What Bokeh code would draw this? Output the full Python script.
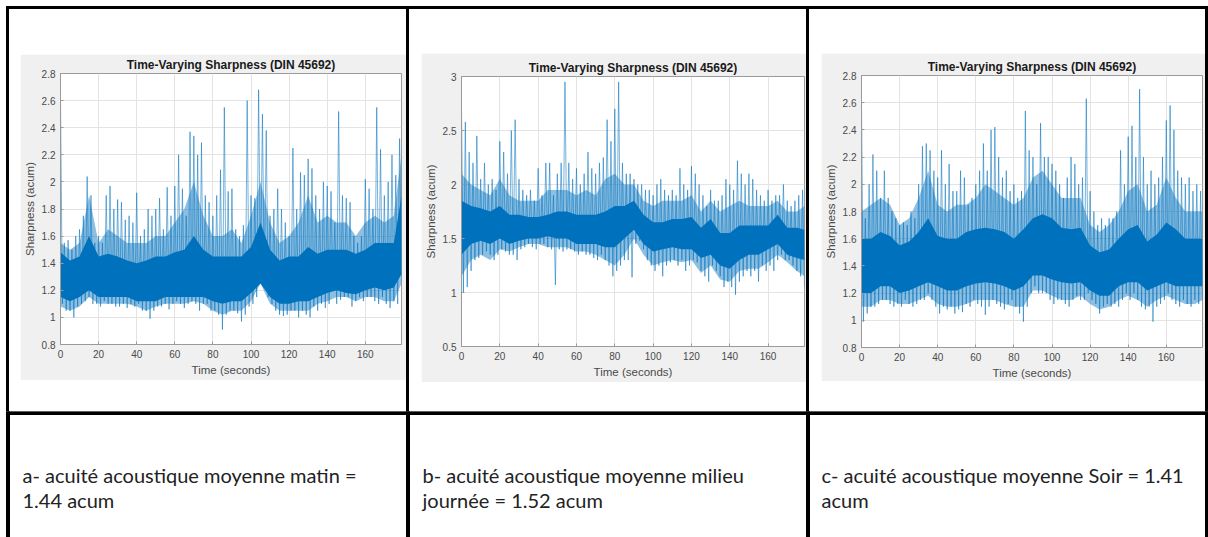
from bokeh.plotting import figure
from bokeh.layouts import row, column
from bokeh.models import Spacer, Range1d, FixedTicker, CustomJSTickFormatter
from bokeh.core.properties import value
from bokeh.embed import file_html
from bokeh.resources import INLINE

TITLE = "Time-Varying Sharpness (DIN 45692)"
XLABEL = "Time (seconds)"
YLABEL = "Sharpness (acum)"

x_ticks = [0, 20, 40, 60, 80, 100, 120, 140, 160]
y_ticks_ac = [0.8, 1, 1.2, 1.4, 1.6, 1.8, 2, 2.2, 2.4, 2.6, 2.8]
y_ticks_b = [0.5, 1, 1.5, 2, 2.5, 3]

# local maxima (even seconds) / local minima (odd seconds), read per 2 s bin
t_bins = list(range(0, 180, 2))
# dense core band and medium-density band, read every 5 s
t_core = [0, 5, 10, 15, 20, 25, 30, 35, 40, 45, 50, 55, 60, 65, 70, 75, 80, 85, 90,
          95, 100, 105, 110, 115, 120, 125, 130, 135, 140, 145, 150, 155, 160, 165,
          170, 175, 179]

a_hi = [2.6, 1.55, 1.57, 1.5, 1.6, 1.65, 1.75, 2.04, 1.9, 1.55,
        1.6, 1.55, 1.9, 1.97, 1.8, 1.87, 1.85, 1.72, 1.75, 1.7,
        1.92, 1.6, 1.65, 1.8, 1.75, 1.8, 1.88, 1.65, 1.96, 1.75,
        1.97, 2.2, 1.95, 1.75, 2.37, 2.34, 2.2, 2.29, 1.9, 1.85,
        1.75, 1.9, 2.09, 2.55, 1.93, 1.95, 1.65, 1.6, 1.68, 2.6,
        1.9, 1.88, 2.68, 2.5, 2.38, 1.75, 1.8, 1.95, 1.8, 1.7,
        1.6, 2.25, 1.8, 2.07, 2.05, 2.17, 2.1, 1.9, 1.8, 2.0,
        1.97, 1.93, 1.7, 2.52, 1.9, 1.88, 1.85, 1.6, 1.55, 1.6,
        2.02, 1.95, 1.8, 2.55, 2.24, 1.9, 2.0, 2.2, 2.05, 2.32]
a_lo = [1.1, 1.05, 1.05, 1.0, 1.08, 1.1, 1.12, 1.15, 1.1, 1.1,
        1.08, 1.12, 1.1, 1.1, 1.08, 1.08, 1.1, 1.07, 1.1, 1.08,
        1.1, 1.05, 1.05, 0.99, 1.05, 1.08, 1.08, 1.1, 1.06, 1.1,
        1.12, 1.1, 1.07, 1.1, 1.12, 1.1, 1.05, 1.1, 1.1, 1.05,
        1.05, 1.02, 0.91, 1.02, 1.05, 1.05, 1.03, 0.97, 1.02, 1.08,
        1.1, 1.15, 1.28, 1.25, 1.15, 1.1, 1.05, 1.02, 1.01, 1.02,
        1.05, 1.05, 1.0, 1.05, 1.02, 1.0, 1.08, 1.05, 1.1, 1.07,
        1.1, 1.2, 1.1, 1.13, 1.15, 1.15, 1.08, 1.12, 1.15, 1.12,
        1.15, 1.15, 1.12, 1.1, 1.15, 1.1, 1.07, 1.12, 1.1, 1.3]
a_core_lo = [1.15, 1.12, 1.15, 1.2, 1.15, 1.15, 1.15, 1.15, 1.12, 1.12, 1.12, 1.15,
             1.15, 1.15, 1.15, 1.15, 1.12, 1.1, 1.12, 1.12, 1.18, 1.25, 1.15, 1.1,
             1.1, 1.12, 1.12, 1.15, 1.18, 1.2, 1.18, 1.17, 1.2, 1.22, 1.2, 1.22, 1.32]
a_core_hi = [1.48, 1.42, 1.45, 1.6, 1.45, 1.47, 1.45, 1.42, 1.4, 1.42, 1.45, 1.45,
             1.48, 1.5, 1.6, 1.5, 1.45, 1.45, 1.45, 1.45, 1.52, 1.7, 1.5, 1.42,
             1.45, 1.45, 1.52, 1.47, 1.5, 1.5, 1.5, 1.47, 1.5, 1.55, 1.55, 1.55, 1.9]
a_fuzz_lo = [1.08, 1.05, 1.08, 1.15, 1.1, 1.1, 1.1, 1.1, 1.08, 1.05, 1.08, 1.1,
             1.1, 1.1, 1.12, 1.1, 1.05, 1.02, 1.05, 1.05, 1.12, 1.25, 1.1, 1.05,
             1.05, 1.05, 1.05, 1.1, 1.12, 1.15, 1.15, 1.12, 1.15, 1.15, 1.12, 1.12, 1.25]
a_fuzz_hi = [1.55, 1.5, 1.55, 1.9, 1.55, 1.65, 1.6, 1.55, 1.55, 1.55, 1.6, 1.6,
             1.7, 1.8, 2.0, 1.75, 1.6, 1.6, 1.65, 1.55, 1.75, 2.0, 1.7, 1.55,
             1.6, 1.7, 1.9, 1.7, 1.75, 1.7, 1.7, 1.6, 1.7, 1.75, 1.7, 1.75, 2.2]

b_hi = [2.7, 2.58, 2.3, 2.2, 2.45, 2.05, 2.2, 2.0, 2.05, 1.95,
        2.4, 2.3, 2.1, 2.5, 2.6, 2.05, 1.95, 1.9, 1.95, 1.85,
        2.15, 1.9, 2.2, 2.2, 1.9, 2.1, 2.2, 2.95, 2.2, 2.05,
        2.15, 2.0, 2.1, 2.3, 2.15, 2.1, 2.2, 2.25, 2.6, 2.4,
        2.7, 2.95, 2.2, 2.1, 2.1, 2.05, 2.0, 2.0, 1.95, 1.95,
        1.9, 2.0, 2.05, 1.95, 1.9, 1.95, 1.9, 2.15, 2.0, 1.95,
        2.17, 2.1, 2.0, 1.9, 1.8, 1.95, 1.85, 1.85, 1.9, 2.05,
        2.0, 1.95, 2.22, 2.1, 2.0, 2.1, 2.05, 1.95, 1.9, 1.85,
        1.95, 1.85, 1.9, 1.9, 2.0, 1.85, 1.8, 1.85, 1.9, 1.95]
b_lo = [1.0, 1.05, 1.2, 1.3, 1.32, 1.35, 1.38, 1.35, 1.3, 1.35,
        1.4, 1.38, 1.35, 1.35, 1.3, 1.4, 1.42, 1.45, 1.42, 1.4,
        1.45, 1.45, 1.42, 1.4, 1.07, 1.4, 1.38, 1.4, 1.4, 1.38,
        1.35, 1.38, 1.35, 1.35, 1.32, 1.3, 1.35, 1.3, 1.25, 1.15,
        1.2, 1.25, 1.3, 1.3, 1.14, 1.45, 1.48, 1.4, 1.3, 1.25,
        1.2, 1.25, 1.15, 1.25, 1.28, 1.3, 1.25, 1.3, 1.2, 1.25,
        1.3, 1.28, 1.2, 1.15, 1.1, 1.25, 1.2, 1.15, 1.05, 1.1,
        1.05, 0.98, 1.1, 1.15, 1.2, 1.15, 1.2, 1.1, 1.25, 1.2,
        1.25, 1.2, 1.3, 1.35, 1.3, 1.3, 1.25, 1.2, 1.15, 1.05]
b_core_lo = [1.35, 1.45, 1.48, 1.45, 1.5, 1.45, 1.48, 1.5, 1.5, 1.52, 1.5, 1.5,
             1.45, 1.45, 1.45, 1.42, 1.42, 1.5, 1.58, 1.45, 1.38, 1.4, 1.42, 1.4,
             1.4, 1.32, 1.35, 1.25, 1.22, 1.3, 1.35, 1.35, 1.4, 1.45, 1.35, 1.32, 1.3]
b_core_hi = [1.85, 1.8, 1.78, 1.75, 1.8, 1.72, 1.72, 1.7, 1.7, 1.72, 1.75, 1.75,
             1.72, 1.72, 1.72, 1.75, 1.8, 1.8, 1.85, 1.72, 1.65, 1.65, 1.68, 1.68,
             1.7, 1.6, 1.68, 1.55, 1.55, 1.62, 1.62, 1.62, 1.62, 1.72, 1.6, 1.6, 1.58]
b_fuzz_lo = [1.15, 1.3, 1.35, 1.3, 1.4, 1.38, 1.42, 1.45, 1.45, 1.42, 1.42, 1.42,
             1.38, 1.38, 1.35, 1.3, 1.25, 1.35, 1.5, 1.35, 1.25, 1.28, 1.3, 1.28,
             1.3, 1.18, 1.25, 1.12, 1.1, 1.2, 1.22, 1.22, 1.28, 1.35, 1.28, 1.2, 1.15]
b_fuzz_hi = [2.1, 2.0, 1.95, 1.9, 2.05, 1.9, 1.85, 1.85, 1.85, 1.95, 1.95, 1.95,
             1.9, 1.95, 1.9, 2.05, 2.1, 2.0, 2.0, 1.85, 1.8, 1.85, 1.85, 1.85,
             1.9, 1.75, 1.85, 1.75, 1.8, 1.85, 1.8, 1.8, 1.8, 1.85, 1.75, 1.75, 1.8]

c_hi = [2.6, 1.75, 2.0, 2.22, 2.1, 1.9, 2.1, 1.9, 1.8, 1.75,
        1.7, 1.72, 1.7, 1.8, 1.75, 2.0, 2.28, 2.3, 2.25, 2.1,
        2.05, 2.25, 2.0, 2.15, 1.95, 1.95, 2.1, 2.05, 1.85, 1.9,
        2.0, 2.1, 2.3, 2.1, 2.4, 2.42, 2.2, 2.05, 2.1, 1.95,
        2.0, 1.9, 1.95, 2.54, 2.25, 2.2, 2.0, 2.45, 2.2, 2.2,
        2.15, 2.1, 2.0, 1.9, 2.05, 2.2, 2.15, 2.0, 2.05, 2.63,
        1.95, 1.8, 1.7, 1.75, 1.7, 1.75, 1.75, 1.8, 2.25, 2.0,
        2.35, 2.43, 2.2, 2.7, 2.2, 2.0, 2.1, 2.0, 2.05, 2.2,
        2.47, 2.58, 2.4, 2.1, 2.05, 2.0, 2.05, 1.95, 2.0, 1.95]
c_lo = [0.99, 1.05, 1.1, 1.1, 1.12, 1.15, 1.15, 1.12, 1.1, 1.12,
        1.1, 1.15, 1.12, 1.1, 1.12, 1.15, 1.15, 1.2, 1.15, 1.1,
        1.05, 1.1, 1.08, 1.1, 1.05, 1.08, 1.06, 1.12, 1.1, 1.15,
        1.12, 1.1, 1.04, 1.1, 1.15, 1.12, 1.1, 1.08, 1.12, 1.15,
        1.1, 1.05, 0.99, 1.1, 1.2, 1.25, 1.2, 1.2, 1.2, 1.15,
        1.12, 1.15, 1.15, 1.12, 1.1, 1.15, 1.18, 1.15, 1.15, 1.2,
        1.15, 1.12, 1.05, 1.1, 1.12, 1.1, 1.12, 1.1, 1.15, 1.2,
        1.15, 1.2, 1.15, 1.1, 1.08, 1.1, 0.99, 1.1, 1.12, 1.15,
        1.2, 1.15, 1.12, 1.1, 1.15, 1.12, 1.1, 1.15, 1.12, 1.15]
c_core_lo = [1.2, 1.2, 1.25, 1.25, 1.2, 1.22, 1.25, 1.28, 1.25, 1.22, 1.22, 1.25,
             1.27, 1.28, 1.27, 1.25, 1.22, 1.25, 1.33, 1.33, 1.3, 1.28, 1.27, 1.28,
             1.22, 1.18, 1.18, 1.25, 1.28, 1.28, 1.22, 1.25, 1.28, 1.25, 1.25, 1.25, 1.25]
c_core_hi = [1.6, 1.6, 1.65, 1.62, 1.55, 1.58, 1.65, 1.75, 1.62, 1.6, 1.6, 1.65,
             1.67, 1.68, 1.67, 1.65, 1.6, 1.67, 1.75, 1.78, 1.75, 1.68, 1.67, 1.68,
             1.55, 1.5, 1.52, 1.6, 1.67, 1.7, 1.58, 1.63, 1.72, 1.67, 1.6, 1.6, 1.6]
c_fuzz_lo = [1.1, 1.1, 1.15, 1.15, 1.12, 1.12, 1.15, 1.18, 1.12, 1.1, 1.1, 1.12,
             1.15, 1.15, 1.15, 1.12, 1.1, 1.1, 1.22, 1.22, 1.18, 1.15, 1.15, 1.18,
             1.12, 1.08, 1.1, 1.15, 1.18, 1.15, 1.1, 1.15, 1.18, 1.15, 1.12, 1.12, 1.15]
c_fuzz_hi = [1.8, 1.85, 1.9, 1.85, 1.7, 1.75, 1.9, 2.1, 1.85, 1.8, 1.85, 1.85,
             1.9, 2.0, 1.95, 1.9, 1.85, 1.9, 2.05, 2.1, 2.0, 1.9, 1.9, 1.9,
             1.7, 1.65, 1.7, 1.8, 1.95, 2.0, 1.8, 1.85, 2.05, 1.9, 1.8, 1.8, 1.8]

captions = [
    ["a- acuit\u00e9  acoustique moyenne matin =", "1.44 acum"],
    ["b- acuit\u00e9  acoustique moyenne milieu", "journ\u00e9e = 1.52 acum"],
    ["c- acuit\u00e9  acoustique moyenne Soir = 1.41", "acum"],
]

BLUE = "#0072BD"
AX = "#9a9a9a"
TXT = "#4a4a4a"
FONT = "Liberation Sans"


def chart(w, h, bl, br, bt, bb, ylim, yticks, hi, lo, clo, chi, flo, fhi):
    p = figure(width=w, height=h, x_range=Range1d(0, 179), y_range=Range1d(*ylim),
               output_backend="svg", toolbar_location=None,
               min_border_left=bl, min_border_right=br, min_border_top=bt,
               min_border_bottom=bb, border_fill_color="#f0f0f0",
               background_fill_color="white", outline_line_color=AX,
               title=TITLE)
    p.title.align = "center"
    p.title.text_font = FONT
    p.title.text_font_size = "12px"
    p.title.text_font_style = "bold"
    p.title.text_color = "#1a1a1a"
    p.title.standoff = 3
    xs, ys = [], []
    for t, a, b in zip(t_bins, hi, lo):
        xs += [t, t + 1]
        ys += [a, b]
    p.varea(x=t_core, y1=flo, y2=fhi, fill_color=BLUE, fill_alpha=0.45)
    p.line(xs, ys, line_color=BLUE, line_width=0.9, line_alpha=0.6)
    p.varea(x=t_core, y1=clo, y2=chi, fill_color=BLUE)
    p.xaxis.ticker = FixedTicker(ticks=x_ticks)
    p.yaxis.ticker = FixedTicker(ticks=yticks)
    fmt = CustomJSTickFormatter(code="return String(Math.round(tick*10)/10);")
    p.xaxis.formatter = fmt
    p.yaxis.formatter = fmt
    p.xaxis.axis_label = XLABEL
    p.yaxis.axis_label = YLABEL
    for ax in p.axis:
        ax.major_tick_in = 3
        ax.major_tick_out = 0
        ax.minor_tick_line_color = None
        ax.axis_line_color = AX
        ax.major_tick_line_color = AX
        ax.major_label_text_color = TXT
        ax.major_label_text_font = FONT
        ax.major_label_text_font_size = "10px"
        ax.axis_label_text_font = FONT
        ax.axis_label_text_font_size = "11.5px"
        ax.axis_label_text_font_style = "normal"
        ax.axis_label_text_color = TXT
        ax.major_label_standoff = 5
        ax.axis_label_standoff = 3
    p.grid.grid_line_color = "#e3e3e3"
    return p


def black(w, h):
    return Spacer(width=w, height=h, styles={"background-color": "black"})


def white(w, h):
    return Spacer(width=w, height=h)


pa = chart(386, 326, 38, 5, 19, 36, (0.8, 2.8), y_ticks_ac, a_hi, a_lo,
           a_core_lo, a_core_hi, a_fuzz_lo, a_fuzz_hi)
pb = chart(385, 329, 40, 2, 23, 36, (0.5, 3), y_ticks_b, b_hi, b_lo,
           b_core_lo, b_core_hi, b_fuzz_lo, b_fuzz_hi)
pc = chart(384, 328, 38, 3, 22, 34, (0.8, 2.8), y_ticks_ac, c_hi, c_lo,
           c_core_lo, c_core_hi, c_fuzz_lo, c_fuzz_hi)

cellA = column(white(397, 45), row(white(11, 326), pa), white(397, 31))
cellB = column(white(397, 44), row(white(12, 329), pb), white(397, 29))
cellC = column(white(396, 44), row(white(12, 328), pc), white(396, 30))

top_row = row(white(6, 402), black(3, 402), cellA, black(3, 402), cellB,
              black(3, 402), cellC, black(3, 402))

BH = 126
bf = figure(width=1208, height=BH, x_range=Range1d(0, 1208), y_range=Range1d(BH, 0),
            min_border=0, toolbar_location=None, output_backend="svg",
            outline_line_color=None, x_axis_location=None, y_axis_location=None)
bf.grid.visible = False
bf.quad(left=[6, 406, 806, 1205, 6], right=[9, 409, 809, 1208, 1208],
        top=[0, 0, 0, 0, 0], bottom=[BH, BH, BH, BH, 3], color="black")
tx, ty, tt = [], [], []
for i, (l1, l2) in enumerate(captions):
    x0 = [22, 422, 821][i]
    tx += [x0, x0]
    ty += [63, 88]
    tt += [l1, l2]
bf.text(x=tx, y=ty, text=tt, text_font=value("Lato"), text_font_size="20px",
        text_baseline="middle", text_color="#222222")

layout = column(white(1208, 6), row(white(6, 3), black(1202, 3)), top_row, bf)

open("out.html", "w").write(file_html(layout, INLINE))
